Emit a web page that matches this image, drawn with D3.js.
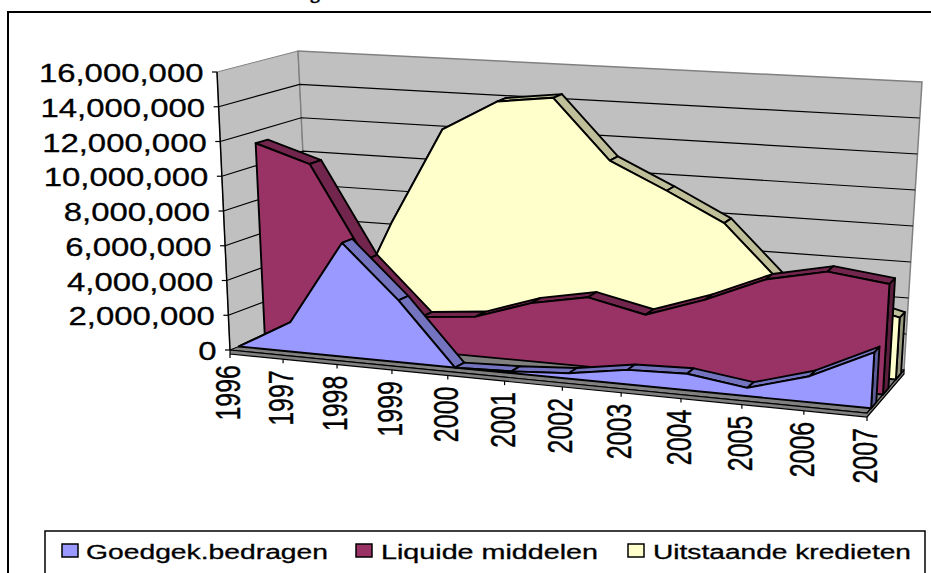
<!DOCTYPE html>
<html>
  <head>
    <meta charset="utf-8">
    <script src="https://d3js.org/d3.v7.min.js"></script>
    <style>
      html, body { margin: 0; padding: 0; background: #fff; overflow: hidden; }
      text { font-family: "Liberation Sans", Arial, sans-serif; fill: #000; stroke: #000; stroke-width: 0.3px; }
    </style>
  </head>
<body>
  <script type="text/javascript">
    // values
    var years = ["1996","1997","1998","1999","2000","2001","2002","2003","2004","2005","2006","2007"];
    var goedgek = [0, 1700000, 6500000, 3500000, 0, 100000, 300000, 800000, 900000, 450000, 1400000, 3000000];
    var liquide = [11300000, 10300000, 5000000, 1950000, 2250000, 3300000, 3900000, 3200000, 4300000, 5700000, 6400000, 6000000];
    var uitstaande = [0, 300000, 6500000, 12200000, 14000000, 14400000, 11000000, 9500000, 7900000, 4800000, 4200000, 3400000];
    var seriesNames = ["Goedgek.bedragen", "Liquide middelen", "Uitstaande kredieten"];
    var yTicks = [0, 2000000, 4000000, 6000000, 8000000, 10000000, 12000000, 14000000, 16000000];

    var width = 931, height = 573;
    var svg = d3.select("body").append("svg")
        .attr("width", width)
        .attr("height", height);

    // scales: year -> 0..1 across, value -> 0..1 up
    var xScale = d3.scalePoint().domain(years).range([0, 1]);
    var yScale = d3.scaleLinear().domain([0, 16000000]).range([0, 1]);

    // corners of the 3d box on screen
    var box = {
      fl: [230, 350], flt: [217, 72], fr: [867, 413], frt: [884, 113],
      bl: [311, 318], blt: [298, 51], br: [904, 370], brt: [922, 82]
    };
    function mix(a, b, t) { return [a[0] + (b[0] - a[0]) * t, a[1] + (b[1] - a[1]) * t]; }
    // u across, v up, w into the page
    function project(u, v, w) {
      var p = u / (u + 1.1 * (1 - u));
      var bottom = mix(mix(box.fl, box.fr, p), mix(box.bl, box.br, p), w);
      var top = mix(mix(box.flt, box.frt, p), mix(box.blt, box.brt, p), w);
      return mix(bottom, top, v);
    }
    var line = d3.line();
    function poly(pts) { return line(pts) + "Z"; }

    var colors = {
      wall: "#c0c0c0", floor: "#808080",
      blue: "#9999ff", blueTop: "#7373bf", blueSide: "#5c5c99",
      plum: "#993366", plumTop: "#73264d", plumSide: "#5c1f3d",
      cream: "#ffffcc", creamTop: "#bfbf99", creamSide: "#999980"
    };

    // frame and cut off title
    svg.append("rect").attr("x", 8).attr("y", 12).attr("width", 930).attr("height", 580)
        .attr("fill", "#fff").attr("stroke", "#000").attr("stroke-width", 2);
    svg.append("text").attr("x", 310).attr("y", -2).style("font-family", "'Liberation Serif', serif")
        .style("font-weight", "bold").style("font-size", "20px").text("g");

    // walls
    var chart = svg.append("g");
    chart.append("path").attr("d", poly([box.fl, box.flt, box.blt, box.bl]))
        .attr("fill", colors.wall).attr("stroke", colors.floor).attr("stroke-width", 1);
    chart.append("path").attr("d", poly([box.bl, box.blt, box.brt, box.br]))
        .attr("fill", colors.wall).attr("stroke", colors.floor).attr("stroke-width", 1.5);

    // gridlines on both walls
    yTicks.slice(1, -1).forEach(function (d) {
      var v = yScale(d);
      chart.append("path")
          .attr("d", line([project(0, v, 0), project(0, v, 1), project(1, v, 1)]))
          .attr("fill", "none").attr("stroke", "#000").attr("stroke-width", 1.2);
    });

    // floor, with its thin edge
    var drop = 4;
    chart.append("path").attr("d", poly([box.fl, box.fr, box.br, box.bl]))
        .attr("fill", colors.floor).attr("stroke", "#000").attr("stroke-width", 1);
    chart.append("path")
        .attr("d", poly([box.fl, box.fr, box.br, [box.br[0], box.br[1] + drop], [box.fr[0], box.fr[1] + drop], [box.fl[0], box.fl[1] + drop]]))
        .attr("fill", colors.floor).attr("stroke", "#000").attr("stroke-width", 1.2);
    chart.append("path").attr("d", line([box.fl, box.flt]))
        .attr("fill", "none").attr("stroke", "#000").attr("stroke-width", 1.5);

    // one slab per series, back to front
    var slabs = [
      { values: uitstaande, w0: 0.78, w1: 0.92, face: colors.cream, top: colors.creamTop, side: colors.creamSide },
      { values: liquide, w0: 0.43, w1: 0.58, face: colors.plum, top: colors.plumTop, side: colors.plumSide },
      { values: goedgek, w0: 0.11, w1: 0.25, face: colors.blue, top: colors.blueTop, side: colors.blueSide }
    ];
    slabs.forEach(function (s) {
      var g = chart.append("g").attr("stroke", "#000").attr("stroke-width", 1.9).attr("stroke-linejoin", "round");
      var n = years.length;
      var front = years.map(function (y, i) { return project(xScale(y), yScale(s.values[i]), s.w0); });
      var back = years.map(function (y, i) { return project(xScale(y), yScale(s.values[i]), s.w1); });
      // right end cap
      g.append("path").attr("d", poly([
        front[n - 1], back[n - 1], project(1, 0, s.w1), project(1, 0, s.w0)
      ])).attr("fill", s.side);
      // top strips
      d3.range(n - 1).forEach(function (i) {
        g.append("path").attr("d", poly([front[i], front[i + 1], back[i + 1], back[i]])).attr("fill", s.top);
      });
      // front face
      var base = [project(1, 0, s.w0), project(0, 0, s.w0)];
      g.append("path").attr("d", poly(front.concat(base))).attr("fill", s.face);
    });

    // y axis
    yTicks.forEach(function (d) {
      var p = project(0, yScale(d), 0);
      chart.append("path").attr("d", line([[p[0] - 5, p[1]], p])).attr("stroke", "#000").attr("stroke-width", 1.2);
      svg.append("text")
          .attr("transform", "translate(" + (p[0] - 13.5) + "," + (p[1] + 10) + ") scale(1.29,1)")
          .attr("text-anchor", "end")
          .style("font-size", "25.5px")
          .text(d3.format(",")(d));
    });

    // x axis
    years.forEach(function (y) {
      var p = project(xScale(y), 0, 0);
      chart.append("path").attr("d", line([[p[0], p[1] + drop], [p[0], p[1] + drop + 4]])).attr("stroke", "#000").attr("stroke-width", 1.2);
      svg.append("text")
          .attr("transform", "translate(" + (p[0] + 10) + "," + (p[1] + 15) + ") scale(1.4,1) rotate(-90)")
          .attr("text-anchor", "end")
          .style("font-size", "25px")
          .text(y);
    });

    // legend
    svg.append("rect").attr("x", 45).attr("y", 531).attr("width", 880).attr("height", 60)
        .attr("fill", "#fff").attr("stroke", "#000").attr("stroke-width", 1.5);
    var legendBoxes = [62, 356, 628];
    var legendText = [[86, 242], [381, 217], [653, 258]];
    var legendFill = [colors.blue, colors.plum, colors.cream];
    seriesNames.forEach(function (name, i) {
      svg.append("rect").attr("x", legendBoxes[i]).attr("y", 544).attr("width", 16).attr("height", 13)
          .attr("fill", legendFill[i]).attr("stroke", "#000").attr("stroke-width", 1.5);
      svg.append("text").attr("x", legendText[i][0]).attr("y", 559)
          .attr("textLength", legendText[i][1]).attr("lengthAdjust", "spacingAndGlyphs")
          .style("font-size", "19.5px").text(name);
    });
  </script>
</body>
</html>
